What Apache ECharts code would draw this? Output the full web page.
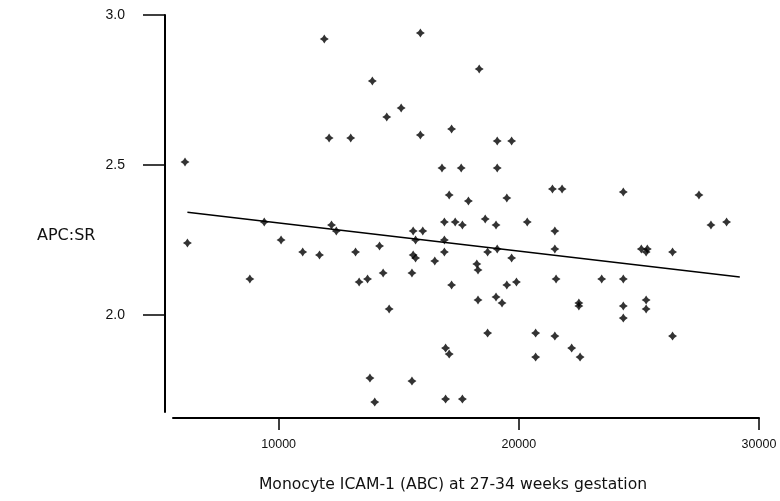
<!DOCTYPE html>
<html>
<head>
<meta charset="utf-8">
<script src="https://cdn.jsdelivr.net/npm/echarts@6/dist/echarts.min.js"></script>
<style>
  html, body { margin: 0; padding: 0; background: #fff; }
  #chart { width: 780px; height: 501px; }
</style>
</head>
<body>
<div id="chart"></div>
<script>
// Monocyte ICAM-1 (ABC) at 27-34 weeks, one value per subject
const icam = [
  11900, 15900, 13900, 15100, 14500, 12100, 13000, 15900, 18350, 17200,
  19100, 19700, 6100, 16800, 17600, 19100, 17100, 17900, 19500, 21400,
  21800, 24350, 27500, 18600, 6200, 9400, 12200, 12400, 10100, 11000,
  11700, 13200, 14200, 15600, 16000, 15700, 15600, 15700, 16500, 8800,
  13350, 13700, 14350, 15550, 14600, 13800, 15550, 14000, 16900, 17350,
  17650, 19050, 20350, 21500, 28000, 28650, 16900, 16900, 18700, 19100,
  21500, 19700, 25100, 25350, 25300, 26400, 18250, 18300, 17200, 19500,
  19900, 21550, 23450, 24350, 18300, 19050, 19300, 22500, 22500, 24350,
  24350, 25300, 25300, 18700, 20700, 21500, 26400, 16950, 17100, 22200,
  22550, 20700, 16950, 17650
];

// APC sensitivity ratio for the same subjects
const apcsr = [
  2.92, 2.94, 2.78, 2.69, 2.66, 2.59, 2.59, 2.60, 2.82, 2.62,
  2.58, 2.58, 2.51, 2.49, 2.49, 2.49, 2.40, 2.38, 2.39, 2.42,
  2.42, 2.41, 2.40, 2.32, 2.24, 2.31, 2.30, 2.28, 2.25, 2.21,
  2.20, 2.21, 2.23, 2.28, 2.28, 2.25, 2.20, 2.19, 2.18, 2.12,
  2.11, 2.12, 2.14, 2.14, 2.02, 1.79, 1.78, 1.71, 2.31, 2.31,
  2.30, 2.30, 2.31, 2.28, 2.30, 2.31, 2.25, 2.21, 2.21, 2.22,
  2.22, 2.19, 2.22, 2.22, 2.21, 2.21, 2.17, 2.15, 2.10, 2.10,
  2.11, 2.12, 2.12, 2.12, 2.05, 2.06, 2.04, 2.04, 2.03, 2.03,
  1.99, 2.05, 2.02, 1.94, 1.94, 1.93, 1.93, 1.89, 1.87, 1.89,
  1.86, 1.86, 1.72, 1.72
];

// Least-squares fit line, start and end
const fitX = [6200, 29200];
const fitY = [2.343, 2.127];

// Labelled ticks
const xTicks = [10000, 20000, 30000];
const yTicks = [2.0, 2.5, 3.0];

const points = icam.map((x, i) => [x, apcsr[i]]);
const fitLine = fitX.map((x, i) => [x, fitY[i]]);

// small four-pointed marker
const starPath = 'path://M0,-10 L4,-4 L10,0 L4,4 L0,10 L-4,4 L-10,0 L-4,-4 Z';

const chart = echarts.init(document.getElementById('chart'), null, { renderer: 'canvas' });

chart.setOption({
  backgroundColor: '#ffffff',
  animation: false,
  grid: { left: 173, right: 21, top: 15, bottom: 89, containLabel: false },
  xAxis: {
    type: 'value',
    min: 5600,
    max: 30000,
    offset: 6,
    name: 'Monocyte ICAM-1 (ABC) at 27-34 weeks gestation',
    nameLocation: 'middle',
    nameGap: 59,
    nameTextStyle: {
      fontFamily: 'DejaVu Sans',
      fontSize: 15.6,
      color: '#111',
      padding: [0, 26, 0, 0]
    },
    axisLine: { show: true, lineStyle: { color: '#000', width: 2 } },
    axisTick: {
      show: true,
      inside: false,
      length: 12,
      customValues: xTicks,
      lineStyle: { color: '#000', width: 1.5 }
    },
    axisLabel: {
      show: true,
      customValues: xTicks,
      margin: 20,
      fontFamily: 'Liberation Sans Narrow, Liberation Sans, Arial',
      fontSize: 12.5,
      color: '#111',
      formatter: v => String(v)
    },
    splitLine: { show: false }
  },
  yAxis: {
    type: 'value',
    min: 1.677,
    max: 3.0,
    offset: 8,
    axisLine: { show: true, lineStyle: { color: '#000', width: 2 } },
    axisTick: {
      show: true,
      inside: false,
      length: 22,
      customValues: yTicks,
      lineStyle: { color: '#000', width: 1.5 }
    },
    axisLabel: {
      show: true,
      customValues: yTicks,
      margin: 40,
      fontFamily: 'Liberation Sans, Arial',
      fontSize: 14,
      color: '#111',
      formatter: v => v.toFixed(1)
    },
    splitLine: { show: false }
  },
  graphic: [
    {
      type: 'text',
      left: 37,
      top: 228,
      style: {
        text: 'APC:SR',
        fontFamily: 'DejaVu Sans',
        fontSize: 16,
        fill: '#111'
      }
    }
  ],
  series: [
    {
      type: 'line',
      data: fitLine,
      symbol: 'none',
      lineStyle: { color: '#000', width: 1.5 },
      z: 2
    },
    {
      type: 'scatter',
      data: points,
      symbol: starPath,
      symbolSize: 9,
      itemStyle: { color: '#000' },
      z: 3
    }
  ]
});
</script>
</body>
</html>
